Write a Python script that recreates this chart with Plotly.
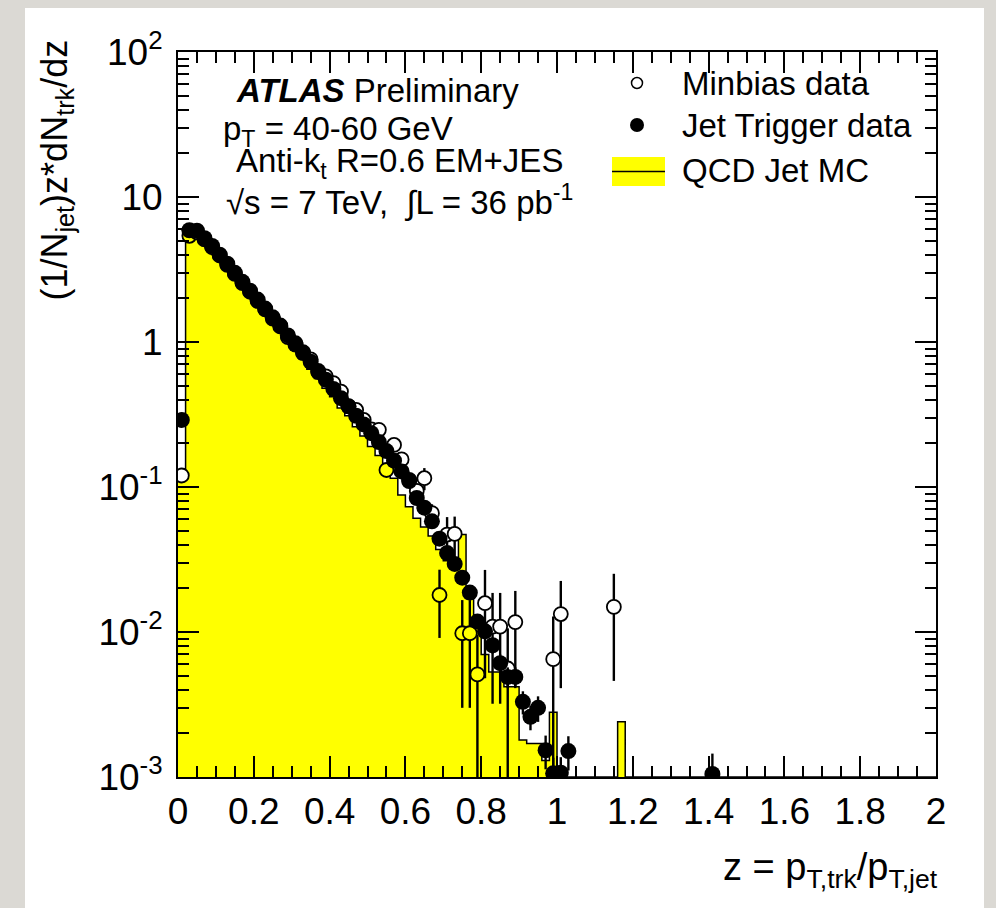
import plotly.graph_objects as go
import numpy as np

# ---------------- data ----------------
# Jet Trigger data (filled circles): bin centres, values, errors
jet_z = [0.01, 0.03, 0.05, 0.07, 0.09, 0.11, 0.13, 0.15, 0.17, 0.19,
         0.21, 0.23, 0.25, 0.27, 0.29, 0.31, 0.33, 0.35, 0.37, 0.39,
         0.41, 0.43, 0.45, 0.47, 0.49, 0.51, 0.53, 0.55, 0.57, 0.59,
         0.61, 0.63, 0.65, 0.67, 0.69, 0.71, 0.73, 0.75, 0.77, 0.79,
         0.81, 0.83, 0.85, 0.87, 0.89, 0.91, 0.93, 0.95, 0.97, 0.99,
         1.01, 1.03, 1.41]
jet_val = [0.29, 5.9, 5.85, 5.2, 4.6, 4.0, 3.47, 3.0, 2.6, 2.26,
           1.96, 1.70, 1.48, 1.28, 1.11, 0.96, 0.84, 0.73, 0.63, 0.55,
           0.475, 0.41, 0.36, 0.31, 0.27, 0.235, 0.204, 0.177, 0.152, 0.128,
           0.11, 0.084, 0.072, 0.058, 0.044, 0.035, 0.0295, 0.0237, 0.0187, 0.0118,
           0.0101, 0.0081, 0.0061, 0.0049, 0.0049, 0.0033, 0.0026, 0.0030, 0.00153, 0.00106,
           0.00107, 0.00151, 0.00105]
jet_err = [0.01, 0.05, 0.05, 0.04, 0.04, 0.03, 0.03, 0.03, 0.02, 0.02,
           0.02, 0.02, 0.015, 0.015, 0.013, 0.012, 0.011, 0.01, 0.009, 0.008,
           0.008, 0.007, 0.007, 0.006, 0.006, 0.006, 0.005, 0.005, 0.005, 0.004,
           0.004, 0.004, 0.003, 0.003, 0.0025, 0.002, 0.002, 0.0018, 0.0015, 0.0012,
           0.0011, 0.001, 0.0009, 0.0008, 0.0008, 0.0006, 0.0005, 0.0006, 0.0004, 0.0003,
           0.0003, 0.0004, 0.0004]

# Minbias data (open circles)
mb_z = [0.01, 0.03, 0.05, 0.07, 0.09, 0.11, 0.13, 0.15, 0.17, 0.19,
        0.21, 0.23, 0.25, 0.27, 0.29, 0.31, 0.33, 0.35, 0.37, 0.39,
        0.41, 0.43, 0.45, 0.47, 0.49, 0.51, 0.53, 0.55, 0.57, 0.59,
        0.61, 0.63, 0.65, 0.67, 0.69, 0.71, 0.73, 0.75, 0.77, 0.79,
        0.81, 0.83, 0.85, 0.87, 0.89, 0.99, 1.01, 1.15]
mb_val = [0.12, 5.4, 5.7, 5.1, 4.5, 3.95, 3.4, 2.95, 2.55, 2.22,
          1.92, 1.68, 1.45, 1.30, 1.08, 0.98, 0.85, 0.76, 0.62, 0.58,
          0.52, 0.455, 0.36, 0.34, 0.29, 0.25, 0.248, 0.131, 0.195, 0.155,
          0.112, 0.094, 0.115, 0.066, 0.018, 0.047, 0.0475, 0.0098, 0.0098, 0.0051,
          0.0158, 0.0109, 0.0109, 0.0056, 0.0117, 0.0065, 0.0133, 0.0149]
mb_err = [0.005, 0.11, 0.11, 0.10, 0.09, 0.08, 0.07, 0.06, 0.05, 0.045,
          0.04, 0.035, 0.03, 0.028, 0.025, 0.022, 0.02, 0.018, 0.015, 0.015,
          0.015, 0.015, 0.013, 0.013, 0.012, 0.012, 0.013, 0.012, 0.013, 0.012,
          0.011, 0.010, 0.020, 0.010, 0.0089, 0.015, 0.015, 0.0068, 0.0068, 0.0045,
          0.011, 0.0077, 0.0077, 0.005, 0.0075, 0.0063, 0.0092, 0.0103]

# QCD Jet MC histogram (bin centres with non-empty content)
mc_z = [0.01, 0.03, 0.05, 0.07, 0.09, 0.11, 0.13, 0.15, 0.17, 0.19,
        0.21, 0.23, 0.25, 0.27, 0.29, 0.31, 0.33, 0.35, 0.37, 0.39,
        0.41, 0.43, 0.45, 0.47, 0.49, 0.51, 0.53, 0.55, 0.57, 0.59,
        0.61, 0.63, 0.65, 0.67, 0.69, 0.71, 0.73, 0.75, 0.77, 0.79,
        0.81, 0.83, 0.85, 0.87, 0.89, 0.91, 0.93, 0.95, 0.97, 0.99,
        1.17]
mc_val = [0.12, 5.5, 5.6, 5.0, 4.4, 3.8, 3.3, 2.85, 2.45, 2.12,
          1.84, 1.58, 1.37, 1.18, 1.02, 0.88, 0.76, 0.65, 0.56, 0.48,
          0.42, 0.35, 0.31, 0.26, 0.225, 0.19, 0.165, 0.135, 0.115, 0.088,
          0.073, 0.061, 0.053, 0.046, 0.037, 0.031, 0.030, 0.047, 0.017, 0.011,
          0.007, 0.0053, 0.0053, 0.0042, 0.0042, 0.0018, 0.0017, 0.0017, 0.0013, 0.0028,
          0.0024]

series_names = ["Minbias data", "Jet Trigger data", "QCD Jet MC"]
x_ticks = [0, 0.2, 0.4, 0.6, 0.8, 1, 1.2, 1.4, 1.6, 1.8, 2]
y_ticks = [1e-3, 1e-2, 1e-1, 1, 10, 100]
y_tick_text = ["10<sup>-3</sup>", "10<sup>-2</sup>", "10<sup>-1</sup>", "1", "10", "10<sup>2</sup>"]

# ---------------- layout constants ----------------
W, H = 996, 908
ML, MR, MT, MB = 178, 60, 52, 131
PW, PH = W - ML - MR, H - MT - MB
XMIN, XMAX = 0.0, 2.0
YMIN_LOG, YMAX_LOG = -3, 2
BIN_W = 0.02
FONT = "Liberation Sans, Arial, Helvetica, sans-serif"
YELLOW = "#ffff00"


def px(x):
    return (x - ML) / PW


def py(y):
    return (H - MB - y) / PH


# ---- histogram as step outline ----
n_bins = int(round((XMAX - XMIN) / BIN_W))
edges = np.round(XMIN + BIN_W * np.arange(n_bins + 1), 4)
contents = np.zeros(n_bins)
for zc, v in zip(mc_z, mc_val):
    contents[int(round((zc - XMIN) / BIN_W - 0.5))] = v
floor = 10 ** YMIN_LOG
step_y = np.where(contents > 0, contents, floor)
step_y = np.append(step_y, step_y[-1])

# open-marker interior: show the histogram through the hollow circle
mb_fill = []
for zc, v in zip(mb_z, mb_val):
    c = contents[int(round((zc - XMIN) / BIN_W - 0.5))]
    mb_fill.append(YELLOW if v < c else "white")

fig = go.Figure()

fig.add_trace(go.Scatter(
    x=edges, y=step_y, mode="lines", line_shape="hv",
    fill="tozeroy", fillcolor=YELLOW,
    line=dict(color="black", width=1.5),
    name=series_names[2], showlegend=False, hoverinfo="skip"))

fig.add_trace(go.Scatter(
    x=mb_z, y=mb_val, mode="markers", name=series_names[0], showlegend=False,
    marker=dict(symbol="circle", size=14, color=mb_fill,
                line=dict(color="black", width=1.8)),
    error_y=dict(type="data", array=mb_err, color="black", thickness=2.4, width=0)))

fig.add_trace(go.Scatter(
    x=jet_z, y=jet_val, mode="markers", name=series_names[1], showlegend=False,
    marker=dict(symbol="circle", size=16, color="black", line=dict(width=0)),
    error_y=dict(type="data", array=jet_err, color="black", thickness=2.4, width=0)))

# ---- shapes: background panel and manual legend ----
shapes = [
    dict(type="rect", xref="paper", yref="paper", x0=px(25), x1=px(984), y0=py(H), y1=py(8),
         fillcolor="white", line=dict(width=0), layer="below"),
]
# legend symbols
shapes.append(dict(type="circle", xref="paper", yref="paper", xsizemode="pixel", ysizemode="pixel",
                   xanchor=px(637), yanchor=py(83), x0=-5.5, x1=5.5, y0=-5.5, y1=5.5,
                   fillcolor="white", line=dict(color="black", width=1.5)))
shapes.append(dict(type="circle", xref="paper", yref="paper", xsizemode="pixel", ysizemode="pixel",
                   xanchor=px(637), yanchor=py(125), x0=-7, x1=7, y0=-7, y1=7,
                   fillcolor="black", line=dict(color="black", width=0)))
shapes.append(dict(type="rect", xref="paper", yref="paper", x0=px(612), x1=px(665), y0=py(186), y1=py(157),
                   fillcolor=YELLOW, line=dict(width=0)))
shapes.append(dict(type="line", xref="paper", yref="paper", x0=px(612), x1=px(665), y0=py(171.5), y1=py(171.5),
                   line=dict(color="black", width=1.5)))

TXT = 33
annotations = [
    dict(x=px(680), y=py(83), text=series_names[0]),
    dict(x=px(680), y=py(125), text=series_names[1]),
    dict(x=px(680), y=py(170), text=series_names[2]),
    dict(x=px(234), y=py(90), text="<b><i>ATLAS</i></b> Preliminary"),
    dict(x=px(221), y=py(131), text="p<sub>T</sub> = 40-60 GeV"),
    dict(x=px(234), y=py(163), text="Anti-k<sub>t</sub> R=0.6 EM+JES"),
    dict(x=px(224), y=py(200), text="\u221As = 7 TeV,  \u222BL = 36 pb<sup>-1</sup>"),
]
for a in annotations:
    a.update(xref="paper", yref="paper", xanchor="left", yanchor="middle", showarrow=False,
             font=dict(family=FONT, size=TXT, color="black"))

# axis titles
annotations.append(dict(x=px(940), y=py(870), xref="paper", yref="paper", xanchor="right", yanchor="middle",
                        showarrow=False, text="z = p<sub>T,trk</sub>/p<sub>T,jet</sub>",
                        font=dict(family=FONT, size=38, color="black")))
annotations.append(dict(x=px(56), y=py(38), xref="paper", yref="paper", xanchor="center", yanchor="top",
                        showarrow=False, textangle=-90,
                        text="(1/N<sub>jet</sub>)z*dN<sub>trk</sub>/dz",
                        font=dict(family=FONT, size=36, color="black")))

y_minor = [m * 10 ** d for d in range(YMIN_LOG, YMAX_LOG) for m in range(2, 10)]

fig.update_layout(
    width=W, height=H, autosize=False,
    margin=dict(l=ML, r=MR, t=MT, b=MB, autoexpand=False),
    paper_bgcolor="#dbd9d4", plot_bgcolor="white",
    shapes=shapes, annotations=annotations, showlegend=False,
    font=dict(family=FONT, color="black"),
    xaxis=dict(range=[XMIN, XMAX], tickvals=x_ticks, ticks="inside", ticklen=21, tickwidth=1.5,
               tickcolor="black", showline=True, linecolor="black", linewidth=2, mirror="allticks",
               showgrid=False, zeroline=False, tickfont=dict(family=FONT, size=37),
               ticklabelstandoff=1,
               minor=dict(dtick=0.05, tick0=0, ticks="inside", ticklen=11, tickwidth=1.5,
                          tickcolor="black", showgrid=False)),
    yaxis=dict(type="log", range=[YMIN_LOG, YMAX_LOG], tickvals=y_ticks, ticktext=y_tick_text,
               ticks="inside", ticklen=21, tickwidth=1.5, tickcolor="black",
               showline=True, linecolor="black", linewidth=2, mirror="allticks",
               showgrid=False, zeroline=False, tickfont=dict(family=FONT, size=37),
               ticklabelstandoff=6,
               minor=dict(tickmode="array", tickvals=y_minor, ticks="inside", ticklen=11,
                          tickwidth=1.5, tickcolor="black", showgrid=False)),
)

fig.write_html("out.html")
